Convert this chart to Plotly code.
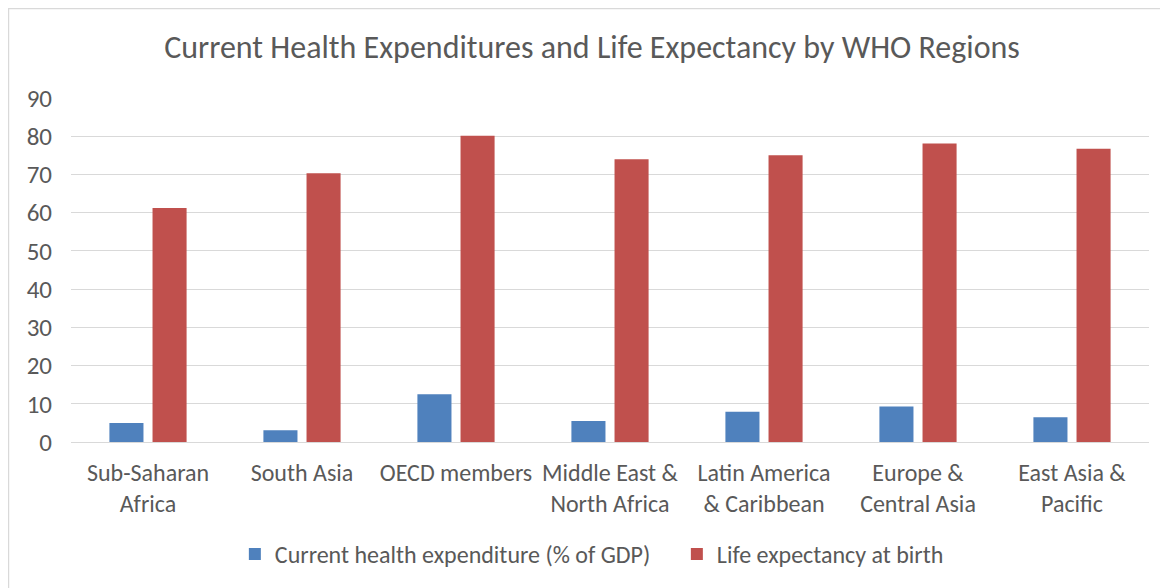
import plotly.graph_objects as go

categories = ["Sub-Saharan<br>Africa", "South Asia", "OECD members", "Middle East &<br>North Africa",
              "Latin America<br>& Caribbean", "Europe &<br>Central Asia", "East Asia &<br>Pacific"]
health_exp = [5.0, 3.1, 12.5, 5.5, 7.9, 9.3, 6.5]
life_exp = [61.2, 70.3, 80.1, 74.0, 75.0, 78.1, 76.7]
y_ticks = [0, 10, 20, 30, 40, 50, 60, 70, 80, 90]

FONT = "Carlito, Lato, Noto Sans, sans-serif"
TXT = "#595959"

fig = go.Figure()
fig.add_trace(go.Bar(x=categories, y=health_exp, name="Current health expenditure (% of GDP)",
                     marker=dict(color="#4F81BD", line=dict(width=0))))
fig.add_trace(go.Bar(x=categories, y=life_exp, name="Life expectancy at birth",
                     marker=dict(color="#C0504D", line=dict(width=0))))

fig.update_layout(
    width=1168, height=588,
    margin=dict(l=63, r=27, t=90, b=154),
    paper_bgcolor="white", plot_bgcolor="white",
    barmode="group", bargap=0.44, bargroupgap=0.21,
    font=dict(family=FONT, size=24, color=TXT),
    title=dict(text="Current Health Expenditures and Life Expectancy by WHO Regions",
               x=0.5, xanchor="center", y=0.934, yanchor="middle",
               font=dict(family=FONT, size=32, color=TXT)),
    xaxis=dict(showgrid=False, showline=True, linecolor="#d9d9d9", linewidth=1, ticks="",
               ticklabelstandoff=9, tickfont=dict(size=24, color=TXT)),
    yaxis=dict(range=[0, 90], tickvals=y_ticks, showgrid=True, gridcolor="#d9d9d9", gridwidth=1,
               zeroline=False, showline=False, ticks="", ticklabelstandoff=18,
               tickfont=dict(size=25, color=TXT)),
    legend=dict(orientation="h", x=0.152, xanchor="left", y=-0.327, yanchor="middle",
                font=dict(size=24, color=TXT), itemwidth=30, traceorder="normal",
                entrywidth=397, entrywidthmode="pixels"),
    shapes=[dict(type="rect", xref="paper", yref="paper", x0=-0.058, x1=1.2,
                 y0=-0.8, y1=1.26, line=dict(color="#d9d9d9", width=1.5))],
)

fig.write_html("out.html")
